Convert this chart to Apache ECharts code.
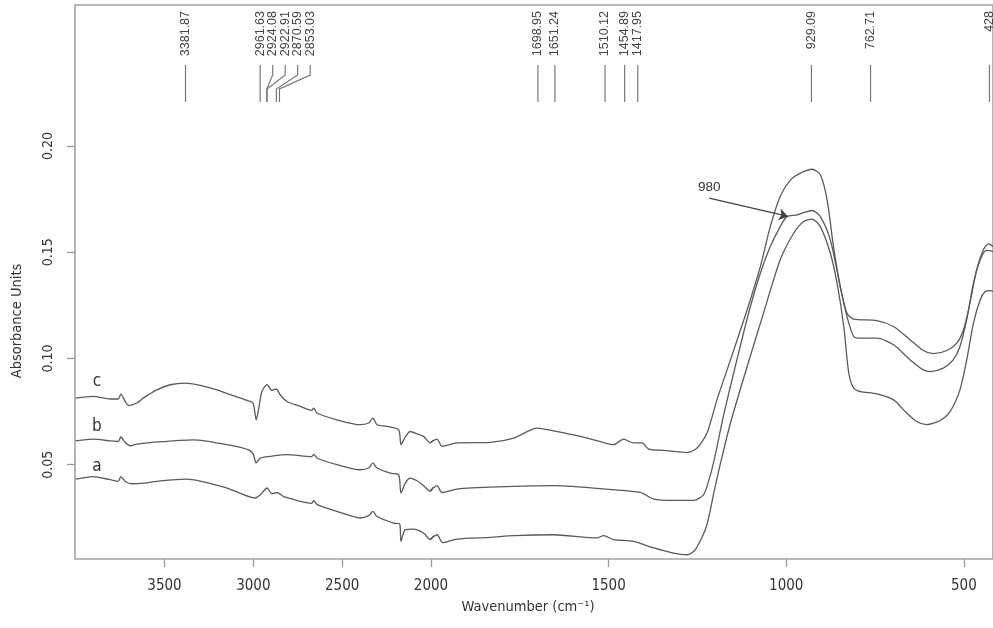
<!DOCTYPE html>
<html>
<head>
<meta charset="utf-8">
<script src="https://cdn.jsdelivr.net/npm/echarts@6/dist/echarts.min.js"></script>
<style>
html,body{margin:0;padding:0;background:#fff;}
#chart{width:993px;height:628px;}
</style>
</head>
<body>
<div id="chart"></div>
<script>
// ---- data (wavenumber cm-1, absorbance) ----
const specC = [
[4000,0.0813],[3902,0.0821],[3806,0.0809],[3761,0.0809],[3746,0.0832],[3721,0.0797],[3703,0.0778],[3656,0.0790],[3620,0.0813],[3543,0.0852],[3468,0.0876],[3384,0.0884],[3299,0.0873],[3205,0.0852],[3130,0.0829],[3036,0.0802],[3002,0.0790],[2984,0.0711],[2971,0.0758],[2952,0.0844],[2923,0.0876],[2895,0.0849],[2871,0.0856],[2849,0.0829],[2811,0.0797],[2736,0.0774],[2672,0.0755],[2660,0.0766],[2642,0.0743],[2529,0.0711],[2398,0.0688],[2351,0.0696],[2327,0.0719],[2304,0.0688],[2248,0.0680],[2182,0.0664],[2169,0.0594],[2145,0.0630],[2117,0.0656],[2079,0.0645],[2042,0.0633],[2004,0.0602],[1983,0.0620],[1969,0.0586],[1927,0.0602],[1833,0.0605],[1767,0.0625],[1702,0.0672],[1655,0.0659],[1580,0.0633],[1512,0.0603],[1486,0.0594],[1458,0.0620],[1430,0.0602],[1406,0.0602],[1387,0.0573],[1345,0.0567],[1279,0.0557],[1251,0.0578],[1223,0.0649],[1195,0.0805],[1157,0.0993],[1110,0.1229],[1073,0.1432],[1045,0.1620],[1017,0.1762],[988,0.1840],[960,0.1872],[927,0.1890],[904,0.1864],[885,0.1746],[867,0.1526],[848,0.1338],[829,0.1213],[810,0.1185],[745,0.1178],[698,0.1150],[651,0.1087],[614,0.1037],[586,0.1022],[548,0.1037],[520,0.1072],[501,0.1135],[483,0.1260],[464,0.1417],[445,0.1511],[431,0.1539],[417,0.1526]
];
const specB = [
[4000,0.0612],[3902,0.0620],[3806,0.0612],[3761,0.0609],[3746,0.0630],[3721,0.0604],[3693,0.0589],[3656,0.0597],[3581,0.0604],[3337,0.0617],[3149,0.0594],[3027,0.0570],[3001,0.0551],[2984,0.0508],[2961,0.0531],[2905,0.0539],[2811,0.0547],[2672,0.0538],[2660,0.0548],[2640,0.0530],[2529,0.0500],[2398,0.0476],[2351,0.0484],[2327,0.0508],[2304,0.0484],[2229,0.0460],[2182,0.0452],[2169,0.0366],[2145,0.0413],[2117,0.0437],[2079,0.0424],[2042,0.0401],[2004,0.0374],[1983,0.0401],[1969,0.0369],[1927,0.0385],[1814,0.0395],[1655,0.0401],[1486,0.0382],[1411,0.0369],[1373,0.0338],[1317,0.0332],[1261,0.0332],[1233,0.0358],[1219,0.0420],[1204,0.0514],[1176,0.0735],[1139,0.0993],[1101,0.1244],[1073,0.1401],[1045,0.1526],[1017,0.1620],[998,0.1667],[970,0.1675],[951,0.1686],[927,0.1696],[904,0.1667],[876,0.1558],[848,0.1338],[829,0.1197],[810,0.1103],[791,0.1095],[745,0.1095],[698,0.1064],[651,0.0993],[614,0.0946],[595,0.0938],[558,0.0954],[530,0.0993],[511,0.1056],[492,0.1182],[473,0.1354],[454,0.1464],[436,0.1508],[417,0.1503]
];
const specA = [
[4000,0.0432],[3902,0.0444],[3806,0.0429],[3761,0.0421],[3746,0.0444],[3721,0.0421],[3684,0.0410],[3618,0.0413],[3524,0.0424],[3374,0.0432],[3149,0.0390],[2989,0.0343],[2961,0.0358],[2923,0.0390],[2895,0.0363],[2867,0.0369],[2830,0.0350],[2672,0.0318],[2660,0.0330],[2640,0.0312],[2529,0.0280],[2398,0.0249],[2351,0.0260],[2327,0.0280],[2304,0.0256],[2211,0.0225],[2177,0.0222],[2169,0.0139],[2145,0.0194],[2098,0.0197],[2042,0.0178],[2004,0.0147],[1983,0.0170],[1967,0.0133],[1927,0.0150],[1833,0.0158],[1767,0.0166],[1655,0.0170],[1533,0.0155],[1514,0.0166],[1486,0.0147],[1430,0.0139],[1373,0.0108],[1317,0.0084],[1279,0.0076],[1256,0.0100],[1225,0.0208],[1202,0.0382],[1186,0.0500],[1157,0.0696],[1110,0.0962],[1064,0.1213],[1017,0.1464],[979,0.1589],[951,0.1644],[927,0.1655],[904,0.1620],[876,0.1495],[857,0.1354],[838,0.1150],[824,0.0931],[810,0.0860],[791,0.0844],[745,0.0833],[698,0.0805],[661,0.0743],[633,0.0703],[605,0.0688],[567,0.0708],[539,0.0750],[511,0.0852],[492,0.0993],[473,0.1166],[454,0.1276],[440,0.1315],[426,0.1319],[417,0.1315]
];
const peaksHi = [3381.87, 2961.63, 2924.08, 2922.91, 2870.59, 2853.03];
const peaksHiText = ['3381.87','2961.63','2924.08','2922.91','2870.59','2853.03'];
const peaksLo = [1698.95, 1651.24, 1510.12, 1454.89, 1417.95, 929.09, 762.71, 428];
const peaksLoText = ['1698.95','1651.24','1510.12','1454.89','1417.95','929.09','762.71','428'];
const xTicksHi = [2500, 3000, 3500];
const xTicksLo = [500, 1000, 1500, 2000];
const yTicks = [0.05, 0.10, 0.15, 0.20];
const curveNames = ['a', 'b', 'c'];
const shoulderLabel = '980';

// ---- helpers ----
function part(data, lo, hi) {
  const inR = p => p[0] >= lo && p[0] <= hi;
  const out = [];
  for (let i = 0; i < data.length; i++) {
    if (inR(data[i]) || (i > 0 && inR(data[i-1])) || (i < data.length-1 && inR(data[i+1]))) out.push(data[i]);
  }
  return out;
}
const COND = '"DejaVu Sans Condensed","Liberation Sans Narrow",sans-serif';
const SANS = '"Liberation Sans",Arial,sans-serif';
const LINE = {color:'#5a5a5a', width:1.3};

function peakRenderer(values, texts) {
  return function (params, api) {
    const xs = values.map(v => api.coord([v, 0.25])[0]);
    const lx = xs.slice();
    for (let k = 1; k < lx.length; k++) if (lx[k] < lx[k-1] + 12.5) lx[k] = lx[k-1] + 12.5;
    const i = params.dataIndex;
    const top = params.coordSys.y;
    const pts = Math.abs(lx[i] - xs[i]) < 0.5
      ? [[xs[i], top+60], [xs[i], top+97]]
      : [[lx[i], top+60], [lx[i], top+70], [xs[i], top+84], [xs[i], top+97]];
    return {
      type: 'group',
      children: [
        {type:'polyline', shape:{points:pts}, style:{stroke:'#777', lineWidth:1.2, fill:'none'}},
        {type:'text', x: lx[i], y: top+6, rotation: Math.PI/2,
         style:{text: texts[i], fill:'#444', fontSize:12.5, fontFamily:SANS, align:'right', verticalAlign:'middle'}}
      ]
    };
  };
}

function lineSeries(name, data, gi, extra) {
  return Object.assign({
    type:'line', name, data, xAxisIndex:gi, yAxisIndex:gi,
    showSymbol:false, symbol:'none', smooth:0.25, clip:true,
    lineStyle: LINE, silent:true
  }, extra || {});
}
function curveLabel(txt, wn, val) {
  return {
    symbol:'circle', symbolSize:1, itemStyle:{color:'rgba(0,0,0,0)'},
    label:{show:true, position:'inside', formatter:txt, fontSize:17, fontFamily:COND, color:'#333'},
    data:[{coord:[wn, val]}]
  };
}

const axisTxt = {fontSize:15, fontFamily:COND, color:'#333', formatter: v => String(v)};
const tickStyle = {color:'#999', width:1.3};

const option = {
  animation:false,
  backgroundColor:'#fff',
  grid:[
    {left:75, top:5, width:356, bottom:69},
    {left:431, top:5, right:0, bottom:69},
    {left:75, top:5, right:0, bottom:69, show:true, borderColor:'#a3a3a3', borderWidth:1.6, backgroundColor:'transparent'}
  ],
  xAxis:[
    {gridIndex:0, type:'value', min:2000, max:4004, inverse:true,
     axisLine:{show:false}, splitLine:{show:false},
     axisTick:{show:true, length:8, lineStyle:tickStyle, customValues:xTicksHi},
     axisLabel:Object.assign({customValues:xTicksHi, margin:20}, axisTxt)},
    {gridIndex:1, type:'value', min:418, max:2000, inverse:true,
     axisLine:{show:false}, splitLine:{show:false},
     axisTick:{show:true, length:8, lineStyle:tickStyle, customValues:xTicksLo},
     axisLabel:Object.assign({customValues:xTicksLo, margin:20}, axisTxt)},
    {gridIndex:2, type:'value', min:0, max:1, show:false}
  ],
  yAxis:[
    {gridIndex:0, type:'value', min:0.0056, max:0.2663,
     axisLine:{show:false}, splitLine:{show:false},
     axisTick:{show:true, length:8, lineStyle:tickStyle, customValues:yTicks},
     axisLabel:{customValues:yTicks, rotate:90, margin:20, formatter:v => v.toFixed(2),
                fontSize:14, fontFamily:COND, color:'#333'}},
    {gridIndex:1, type:'value', min:0.0056, max:0.2663, show:false},
    {gridIndex:2, type:'value', min:0, max:1, show:false}
  ],
  graphic:[
    {type:'text', x:17, y:321, rotation:Math.PI/2,
     style:{text:'Absorbance Units', fill:'#333', fontSize:14.5, fontFamily:COND, align:'center', verticalAlign:'middle'}},
    {type:'text', x:528, y:607,
     style:{text:'Wavenumber (cm\u207B\u00B9)', fill:'#333', fontSize:14.5, fontFamily:COND, align:'center', verticalAlign:'middle'}}
  ],
  series:[
    lineSeries('c', part(specC, 2000, 5000), 0, {markPoint: curveLabel(curveNames[2], 3881, 0.0891)}),
    lineSeries('b', part(specB, 2000, 5000), 0, {markPoint: curveLabel(curveNames[1], 3881, 0.0680)}),
    lineSeries('a', part(specA, 2000, 5000), 0, {markPoint: curveLabel(curveNames[0], 3881, 0.0492)}),
    lineSeries('c', part(specC, 0, 2000), 1),
    lineSeries('b', part(specB, 0, 2000), 1, {
      markLine:{silent:true, symbol:['none','arrow'], symbolSize:9,
        lineStyle:{color:'#444', width:1.2, type:'solid'}, label:{show:false},
        data:[[{coord:[1217, 0.1754]}, {coord:[995, 0.1668]}]]},
      markPoint:{symbol:'circle', symbolSize:1, itemStyle:{color:'rgba(0,0,0,0)'},
        label:{show:true, position:'top', distance:3, formatter:shoulderLabel, fontSize:13.5, fontFamily:SANS, color:'#333'},
        data:[{coord:[1217, 0.1754]}]}
    }),
    lineSeries('a', part(specA, 0, 2000), 1),
    {type:'custom', xAxisIndex:0, yAxisIndex:0, silent:true,
     data: peaksHi.map(v => [v, 0.25]), encode:{x:0, y:1},
     renderItem: peakRenderer(peaksHi, peaksHiText)},
    {type:'custom', xAxisIndex:1, yAxisIndex:1, silent:true,
     data: peaksLo.map(v => [v, 0.25]), encode:{x:0, y:1},
     renderItem: peakRenderer(peaksLo, peaksLoText)}
  ]
};
const chart = echarts.init(document.getElementById('chart'), null, {renderer:'canvas'});
chart.setOption(option);
</script>
</body>
</html>
